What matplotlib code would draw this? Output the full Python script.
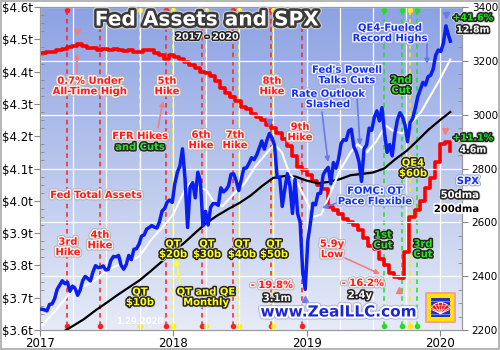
import numpy as np
import pandas as pd
import matplotlib
matplotlib.use("Agg")
import matplotlib.pyplot as plt
import matplotlib.patheffects as pe
import matplotlib.dates as mdates
import matplotlib.transforms as mtransforms
from matplotlib.ticker import MultipleLocator
from matplotlib.patches import Rectangle, Wedge, FancyBboxPatch

# ========================= DATA =========================
# S&P 500 weekly closes (Fridays)
spx_2017 = [2277, 2275, 2271, 2295, 2297, 2316, 2351, 2367, 2383, 2372, 2378, 2344, 2363,
            2355, 2329, 2349, 2384, 2399, 2391, 2382, 2416, 2439, 2432, 2433, 2438, 2423,
            2425, 2459, 2473, 2472, 2477, 2441, 2426, 2443, 2477, 2461, 2500, 2502, 2519,
            2549, 2553, 2575, 2581, 2588, 2582, 2579, 2602, 2642, 2651, 2675, 2683, 2674]
spx_2018 = [2743, 2786, 2810, 2873, 2762, 2581, 2732, 2747, 2691, 2786, 2752, 2588, 2641,
            2590, 2656, 2670, 2670, 2663, 2728, 2713, 2721, 2735, 2779, 2780, 2755, 2718,
            2760, 2801, 2802, 2819, 2840, 2833, 2850, 2875, 2902, 2872, 2905, 2930, 2914,
            2886, 2767, 2768, 2659, 2723, 2781, 2736, 2633, 2760, 2633, 2600, 2417, 2351]
spx_2019 = [2532, 2596, 2671, 2665, 2707, 2708, 2776, 2793, 2804, 2743, 2822, 2801, 2834,
            2893, 2907, 2905, 2940, 2946, 2881, 2860, 2826, 2752, 2873, 2887, 2950, 2942,
            2990, 3014, 2977, 3026, 2932, 2860, 2889, 2847, 2926, 2979, 3007, 2992, 2962,
            2900, 2970, 2986, 3023, 3067, 3093, 3120, 3110, 3141, 3146, 3169, 3221, 3240]
spx_2020 = [3235, 3265, 3330, 3295, 3273]
spx_dates = list(pd.date_range("2017-01-06", periods=160, freq="W-FRI")) + [pd.Timestamp("2020-01-29")]
spx = spx_2017 + spx_2018 + spx_2019 + spx_2020

# 50-day moving average
dma50_dates = ["2017-01-01", "2017-02-01", "2017-03-01", "2017-04-01", "2017-05-01", "2017-06-01",
               "2017-07-01", "2017-08-01", "2017-09-01", "2017-10-01", "2017-11-01", "2017-12-01",
               "2018-01-01", "2018-02-01", "2018-02-15", "2018-03-01", "2018-04-01", "2018-04-20",
               "2018-05-15", "2018-06-15", "2018-07-15", "2018-08-15", "2018-09-15", "2018-10-05",
               "2018-10-25", "2018-11-15", "2018-12-05", "2018-12-31", "2019-01-20", "2019-02-10",
               "2019-03-01", "2019-04-01", "2019-05-01", "2019-05-20", "2019-06-15", "2019-07-10",
               "2019-08-05", "2019-08-25", "2019-09-20", "2019-10-15", "2019-11-10", "2019-12-01",
               "2019-12-31", "2020-01-29"]
dma50 = [2210, 2255, 2300, 2350, 2362, 2385, 2420, 2440, 2452, 2475, 2535, 2580,
         2630, 2720, 2745, 2735, 2720, 2680, 2660, 2705, 2745, 2810, 2860, 2890,
         2860, 2780, 2750, 2680, 2620, 2630, 2690, 2790, 2860, 2890, 2860, 2900,
         2960, 2940, 2930, 2970, 3010, 3060, 3130, 3205]

# 200-day moving average
dma200_dates = ["2017-03-01", "2017-04-01", "2017-05-01", "2017-06-01", "2017-07-01", "2017-08-01",
                "2017-09-01", "2017-10-01", "2017-11-01", "2017-12-01", "2018-01-01", "2018-02-01",
                "2018-03-01", "2018-04-01", "2018-05-01", "2018-06-01", "2018-07-01", "2018-08-01",
                "2018-09-01", "2018-10-01", "2018-11-01", "2018-12-01", "2019-01-01", "2019-02-01",
                "2019-03-01", "2019-04-01", "2019-05-01", "2019-06-01", "2019-07-01", "2019-08-01",
                "2019-09-01", "2019-10-01", "2019-11-01", "2019-12-01", "2020-01-01", "2020-01-29"]
dma200 = [2190, 2215, 2240, 2272, 2300, 2330, 2358, 2385, 2420, 2455, 2492, 2525,
          2560, 2597, 2625, 2650, 2672, 2700, 2735, 2765, 2772, 2770, 2755, 2745,
          2750, 2760, 2775, 2780, 2785, 2800, 2835, 2865, 2905, 2945, 2980, 3010]

# Fed total assets, $ trillions, every second Wednesday
fed_dates = pd.date_range("2017-01-04", periods=81, freq="14D")
fed_assets = [4.458, 4.460, 4.462, 4.466, 4.470, 4.476, 4.478, 4.484, 4.478, 4.474,
              4.472, 4.468, 4.470, 4.466, 4.470, 4.468, 4.464, 4.466, 4.460, 4.462,
              4.466, 4.468, 4.458, 4.450, 4.440, 4.452, 4.446, 4.440, 4.430, 4.420,
              4.410, 4.400, 4.395, 4.385, 4.370, 4.350, 4.335, 4.320, 4.310, 4.290,
              4.285, 4.270, 4.260, 4.250, 4.235, 4.225, 4.210, 4.190, 4.170, 4.140,
              4.105, 4.095, 4.080, 4.060, 4.050, 4.035, 3.980, 3.970, 3.960, 3.945,
              3.935, 3.925, 3.910, 3.885, 3.860, 3.850, 3.820, 3.800, 3.775, 3.765,
              3.762, 3.840, 3.950, 3.970, 4.000, 4.040, 4.070, 4.120, 4.175, 4.183, 4.155]

# FOMC events
hike_dates = ["2017-03-15", "2017-06-14", "2017-12-13", "2018-03-21", "2018-06-13", "2018-09-26", "2018-12-19"]
qt_dates = ["2017-10-01", "2018-01-01", "2018-04-01", "2018-07-01", "2018-10-01", "2019-10-11"]
cut_dates = ["2019-07-31", "2019-09-18", "2019-10-30"]

left_ticks = [3.6, 3.7, 3.8, 3.9, 4.0, 4.1, 4.2, 4.3, 4.4, 4.5, 4.6]
left_labels = ["$3.6t", "$3.7t", "$3.8t", "$3.9t", "$4.0t", "$4.1t", "$4.2t", "$4.3t", "$4.4t", "$4.5t", "$4.6t"]
right_ticks = [2200, 2400, 2600, 2800, 3000, 3200, 3400]
year_ticks = ["2017-01-01", "2018-01-01", "2019-01-01", "2020-01-01"]
year_labels = ["2017", "2018", "2019", "2020"]

# ========================= STYLE =========================
W, H = 500, 350
C_RED = "#ff1a1a"
C_BLUE = "#1530e6"
C_GREEN = "#22e622"
C_YELLOW = "#ffff22"
C_SALMON = "#f08080"
C_LBLUE = "#6a7ae6"

RED_FX = [pe.Stroke(linewidth=3.4, foreground="#b5b5b5"), pe.Stroke(linewidth=2.0, foreground="#fff2f2"), pe.Normal()]
BLUE_FX = [pe.Stroke(linewidth=3.4, foreground="#9aa6d6"), pe.Stroke(linewidth=2.0, foreground="#f2f4ff"), pe.Normal()]
DARK_FX = [pe.Stroke(linewidth=3.4, foreground="#d8d8d8"), pe.Stroke(linewidth=2.2, foreground="#252525"), pe.Normal()]
BLACK_FX = [pe.Stroke(linewidth=2.4, foreground="white"), pe.Normal()]


def fx(x):
    return x / W


def fy(y):
    return 1 - y / H


fig = plt.figure(figsize=(5, 3.5), dpi=100)
fig.patch.set_facecolor("white")
ax = fig.add_axes([fx(40), fy(330), 422 / W, 323 / H])
ax2 = ax.twinx()


def label(x, y, s, color, effects, size=7.2, ha="center", weight="bold"):
    fig.text(fx(x), fy(y), s, ha=ha, va="center", fontsize=size, fontweight=weight,
             color=color, path_effects=effects, linespacing=1.05, zorder=10)


def arrow(x1, y1, x2, y2, color):
    ax2.annotate("", xy=(x2, H - y2), xytext=(x1, H - y1), xycoords="figure pixels",
                 textcoords="figure pixels", zorder=9,
                 arrowprops=dict(arrowstyle="-|>", color=color, lw=1.2, mutation_scale=7,
                                 shrinkA=0, shrinkB=0))


# ========================= AXES =========================
x0, x1 = pd.Timestamp("2017-01-01"), pd.Timestamp("2020-03-01")
ax.set_xlim(x0, x1)
ax.set_ylim(3.6, 4.6)
ax2.set_ylim(2200, 3400)

# background gradient
grad = np.linspace(0, 1, 256).reshape(-1, 1)
cmap = matplotlib.colors.LinearSegmentedColormap.from_list("bg", ["#8ca2e3", "#e6ebf7"])
ax.imshow(grad, cmap=cmap, aspect="auto", extent=[0, 1, 0, 1], transform=ax.transAxes, zorder=0)

ax.set_xticks(pd.to_datetime(year_ticks))
ax.set_xticklabels(year_labels, fontsize=8.5)
ax.xaxis.set_minor_locator(mdates.MonthLocator(bymonth=[1, 4, 7, 10]))
ax.grid(True, which="both", axis="x", color="white", lw=0.9, zorder=0.5)
ax.tick_params(axis="x", which="major", direction="out", length=4, color="#888888", pad=1)
ax.tick_params(axis="x", which="minor", length=0)

ax.set_yticks(left_ticks)
ax.set_yticklabels(left_labels, fontsize=8.5)
ax.yaxis.set_minor_locator(MultipleLocator(0.025))
ax.tick_params(axis="y", which="major", direction="out", length=4, color="#888888", pad=1)
ax.tick_params(axis="y", which="minor", direction="in", length=3, color="#888888")

ax2.set_yticks(right_ticks)
ax2.tick_params(axis="y", which="major", direction="out", length=4, color="#888888", pad=3, labelsize=7.5)
ax2.yaxis.set_minor_locator(MultipleLocator(50))
ax2.tick_params(axis="y", which="minor", direction="in", length=3, color="#888888")
ax2.grid(True, axis="y", color="white", lw=0.9)
ax2.set_axisbelow(True)

for a in (ax, ax2):
    for sp in a.spines.values():
        sp.set_color("#9a9a9a")

# FOMC event lines with end dots
blend = mtransforms.blended_transform_factory(ax.transData, ax.transAxes)
for dates, col in ((hike_dates, "#ff2020"), (qt_dates, "#ffee00"), (cut_dates, "#22dd22")):
    for d in pd.to_datetime(dates):
        ax.axvline(d, ymin=0.012, ymax=0.99, color=col, lw=1.1, ls=(0, (3, 2.5)), zorder=1)
        ax.plot([d, d], [0.012, 0.99], transform=blend, ls="none", marker="o", ms=3,
                color=col, zorder=1, clip_on=False)

# Fed total assets
ax.plot(fed_dates, fed_assets, color="#ff0000", lw=2.6, drawstyle="steps-post", zorder=3)

# SPX and moving averages
ax2.plot(pd.to_datetime(dma200_dates), dma200, color="black", lw=1.6, zorder=2)
ax2.plot(pd.to_datetime(dma50_dates), dma50, color="white", lw=1.5, zorder=2)
ax2.plot(spx_dates, spx, color="#0a1ef0", lw=2.5, zorder=3)
ax2.set_xlim(x0, x1)

# peak / trough markers
fed_arr = np.array(fed_assets)
spx_arr = np.array(spx)
up = lambda a, pts: mtransforms.offset_copy(a.transData, fig=fig, x=0, y=pts, units="points")
i_fpk = int(np.argmax(fed_arr[:40]))
i_flo = int(np.argmin(fed_arr))
i_fend = int(np.argmax(fed_arr[i_flo:])) + i_flo
ax.plot(fed_dates[i_fpk], fed_arr[i_fpk], marker="v", ms=5, color=C_SALMON, transform=up(ax, 9), zorder=5)
ax.plot(fed_dates[i_flo], fed_arr[i_flo], marker="^", ms=5, color=C_SALMON, transform=up(ax, -9), zorder=5)
ax.plot(fed_dates[i_fend], fed_arr[i_fend], marker="v", ms=5, color=C_SALMON, transform=up(ax, 8), zorder=5)
i_s18 = int(np.argmax(spx_arr[52:104])) + 52
i_slo = int(np.argmin(spx_arr[52:]) + 52)
i_shi = int(np.argmax(spx_arr))
ax2.plot(spx_dates[i_s18], spx_arr[i_s18], marker="v", ms=5, color=C_LBLUE, transform=up(ax2, 8), zorder=5)
ax2.plot(spx_dates[i_slo], spx_arr[i_slo], marker="^", ms=5, color=C_LBLUE, transform=up(ax2, -7), zorder=5)
ax2.plot(spx_dates[i_shi], spx_arr[i_shi], marker="v", ms=5, color=C_LBLUE, transform=up(ax2, 8), zorder=5)

# ========================= ANNOTATIONS =========================
fig.text(fx(207), fy(20), "Fed Assets and SPX", ha="center", va="center", fontsize=14.5,
         fontweight="bold", color="white", zorder=10,
         path_effects=[pe.Stroke(linewidth=5.5, foreground="#c8c8c8"),
                       pe.Stroke(linewidth=3.6, foreground="#3a3a3a"), pe.Normal()])
label(207, 37, "2017 - 2020", "white", DARK_FX, size=6.8)

label(90, 86, "0.7% Under\nAll-Time High", C_RED, RED_FX)
label(167, 86, "5th\nHike", C_RED, RED_FX)
label(140, 136, "FFR Hikes", C_RED, RED_FX)
label(140, 147, "and Cuts", C_GREEN, DARK_FX)
label(201, 140, "6th\nHike", C_RED, RED_FX)
label(235, 140, "7th\nHike", C_RED, RED_FX)
label(272, 86, "8th\nHike", C_RED, RED_FX)
label(300, 132, "9th\nHike", C_RED, RED_FX)
label(347, 75, "Fed's Powell\nTalks Cuts", C_BLUE, BLUE_FX)
label(328, 99, "Rate Outlook\nSlashed", C_BLUE, BLUE_FX)
label(390, 33, "QE4-Fueled\nRecord Highs", C_BLUE, BLUE_FX)
label(401, 85, "2nd\nCut", C_GREEN, DARK_FX)
label(473, 18, "+41.6%", C_GREEN, DARK_FX, size=6.8)
label(473, 30, "12.8m", "white", DARK_FX, size=6.8)
label(473, 138, "+11.1%", C_GREEN, DARK_FX, size=6.8)
label(473, 150, "4.6m", "white", DARK_FX, size=6.8)
label(413, 168, "QE4\n$60b", C_YELLOW, DARK_FX)
label(479, 181, "SPX", C_BLUE, BLUE_FX, ha="right")
label(479, 195, "50dma", "white", DARK_FX, ha="right")
label(479, 209, "200dma", "black", BLACK_FX, ha="right")
label(375, 196, "FOMC: QT\nPace Flexible", C_BLUE, BLUE_FX)
label(383, 240, "1st\nCut", C_GREEN, DARK_FX)
label(423, 249, "3rd\nCut", C_GREEN, DARK_FX)
label(332, 249, "5.9y\nLow", C_RED, RED_FX)
label(363, 283, "- 16.2%", C_RED, RED_FX)
label(360, 295, "2.4y", "white", DARK_FX)
label(272, 285, "- 19.8%", C_RED, RED_FX)
label(277, 298, "3.1m", "white", DARK_FX)
label(96, 195, "Fed Total Assets", C_RED, RED_FX)
label(68, 247, "3rd\nHike", C_RED, RED_FX)
label(100, 240, "4th\nHike", C_RED, RED_FX)
label(140, 297, "QT\n$10b", C_YELLOW, DARK_FX)
label(173, 249, "QT\n$20b", C_YELLOW, DARK_FX)
label(206, 297, "QT and QE\nMonthly", C_YELLOW, DARK_FX)
label(207, 249, "QT\n$30b", C_YELLOW, DARK_FX)
label(242, 249, "QT\n$40b", C_YELLOW, DARK_FX)
label(274, 249, "QT\n$50b", C_YELLOW, DARK_FX)
label(140, 322, "1.29.2020", "white", [], size=6)
label(338, 312, "www.ZealLLC.com", "#1a26d8",
      [pe.Stroke(linewidth=4.5, foreground="#b0b8e0"), pe.Stroke(linewidth=3, foreground="white"), pe.Normal()],
      size=11)

arrow(77, 74, 77, 53, C_SALMON)
arrow(158, 128, 163, 101, C_SALMON)
arrow(322, 112, 328, 162, C_LBLUE)
arrow(357, 97, 360, 145, C_LBLUE)
arrow(427, 44, 427, 64, C_LBLUE)
arrow(337, 203, 322, 208, C_LBLUE)
arrow(345, 258, 380, 274, C_SALMON)
arrow(180, 284, 176, 259, C_YELLOW)

# logo
lg = fig.add_axes([fx(425), fy(323), 31 / W, 31 / H])
lg.set_xlim(0, 1)
lg.set_ylim(0, 1)
lg.axis("off")
lg.add_patch(FancyBboxPatch((0.06, 0.06), 0.88, 0.88, boxstyle="round,pad=0.03",
                            fc="#ffe400", ec="#f4a0a0", lw=1.5))
lg.add_patch(Rectangle((0.18, 0.18), 0.64, 0.64, fc="#2430c8", ec="none"))
for k in range(4):
    lg.plot([0.18, 0.82], [0.3 + 0.14 * k, 0.3 + 0.14 * k], color="#8090ff", lw=0.6)
lg.add_patch(Wedge((0.5, 0.3), 0.36, 25, 155, fc="#e81818", ec="white", lw=0.6))
for ang in np.linspace(35, 145, 6):
    r = np.deg2rad(ang)
    lg.plot([0.5, 0.5 + 0.36 * np.cos(r)], [0.3, 0.3 + 0.36 * np.sin(r)], color="white", lw=0.5)

# outer border
fig.add_artist(Rectangle((0.001, 0.002), 0.997, 0.996, transform=fig.transFigure,
                         fill=False, ec="#a8a8a8", lw=1.2))

fig.savefig("out.png", dpi=100)
